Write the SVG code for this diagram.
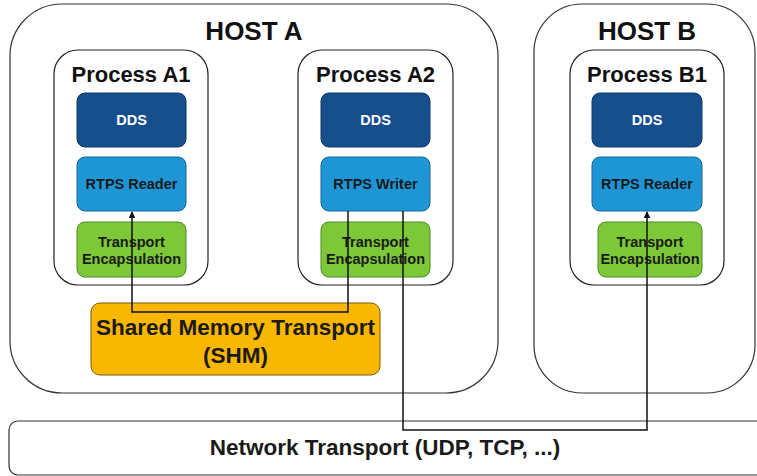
<svg xmlns="http://www.w3.org/2000/svg" width="757" height="476" viewBox="0 0 757 476">
  <defs>
    <style>
      text { font-family: "Liberation Sans", Arial, sans-serif; font-weight: bold; text-anchor: middle; }
      .host { fill: #ffffff; stroke: #333333; stroke-width: 1.2; }
      .proc { fill: #ffffff; stroke: #222222; stroke-width: 1.2; }
      .dds { fill: #174e8c; stroke: #0f3a6b; stroke-width: 1; }
      .rtps { fill: #1e96d6; stroke: #16679a; stroke-width: 1; }
      .enc { fill: #7cc838; stroke: #4f8a1f; stroke-width: 1; }
      .shm { fill: #f9b700; stroke: #7a5a00; stroke-width: 1; }
      .net { fill: #ffffff; stroke: #333333; stroke-width: 1.2; }
      .h1 { font-size: 26px; fill: #111111; }
      .h2 { font-size: 22px; fill: #111111; }
      .small { font-size: 14.5px; fill: #1a1a1a; }
      .white { font-size: 14.5px; fill: #ffffff; }
      .big { font-size: 22.5px; fill: #1a1a1a; }
      .link { fill: none; stroke: #111111; stroke-width: 1.5; }
    </style>
    <marker id="arrow" viewBox="0 0 10 10" refX="9" refY="5" markerWidth="7" markerHeight="7" orient="auto" markerUnits="userSpaceOnUse">
      <path d="M0,0 L10,5 L0,10 Z" fill="#111111"/>
    </marker>
  </defs>

  <!-- Hosts -->
  <g id="host-a">
    <rect class="host" x="10" y="4" width="488" height="389" rx="52" ry="52"/>
    <text class="h1" x="254" y="40">HOST A</text>
  </g>
  <g id="host-b">
    <rect class="host" x="534" y="4" width="221" height="389" rx="48" ry="48"/>
    <text class="h1" x="647" y="40">HOST B</text>
  </g>

  <!-- Network transport -->
  <g id="network">
    <rect class="net" x="9" y="421" width="760" height="54" rx="9" ry="9"/>
    <text class="big" x="385" y="455">Network Transport (UDP, TCP, ...)</text>
  </g>

  <!-- Process A1 -->
  <g id="process-a1">
    <rect class="proc" x="54" y="50" width="154" height="235" rx="24" ry="24"/>
    <text class="h2" x="131" y="82">Process A1</text>
    <rect class="dds" x="77" y="93" width="109" height="54" rx="8" ry="8"/>
    <text class="white" x="131.5" y="125">DDS</text>
    <rect class="rtps" x="77" y="157" width="109" height="54" rx="8" ry="8"/>
    <text class="small" x="131.5" y="189">RTPS Reader</text>
    <rect class="enc" x="77" y="222" width="109" height="55" rx="8" ry="8"/>
    <text class="small" x="131.5" y="247">Transport</text>
    <text class="small" x="131.5" y="264">Encapsulation</text>
  </g>

  <!-- Process A2 -->
  <g id="process-a2">
    <rect class="proc" x="298" y="50" width="155" height="235" rx="24" ry="24"/>
    <text class="h2" x="375.5" y="82">Process A2</text>
    <rect class="dds" x="321" y="93" width="109" height="54" rx="8" ry="8"/>
    <text class="white" x="375.5" y="125">DDS</text>
    <rect class="rtps" x="321" y="157" width="109" height="54" rx="8" ry="8"/>
    <text class="small" x="375.5" y="189">RTPS Writer</text>
    <rect class="enc" x="321" y="222" width="109" height="55" rx="8" ry="8"/>
    <text class="small" x="375.5" y="247">Transport</text>
    <text class="small" x="375.5" y="264">Encapsulation</text>
  </g>

  <!-- Process B1 -->
  <g id="process-b1">
    <rect class="proc" x="570" y="50" width="154" height="235" rx="24" ry="24"/>
    <text class="h2" x="647" y="82">Process B1</text>
    <rect class="dds" x="592" y="93" width="110" height="54" rx="8" ry="8"/>
    <text class="white" x="647" y="125">DDS</text>
    <rect class="rtps" x="592" y="157" width="110" height="54" rx="8" ry="8"/>
    <text class="small" x="647" y="189">RTPS Reader</text>
    <rect class="enc" x="598" y="222" width="104" height="55" rx="8" ry="8"/>
    <text class="small" x="650" y="247">Transport</text>
    <text class="small" x="650" y="264">Encapsulation</text>
  </g>

  <!-- Shared memory transport -->
  <g id="shm">
    <rect class="shm" x="91" y="303" width="289" height="72" rx="9" ry="9"/>
    <text class="big" x="235.5" y="335">Shared Memory Transport</text>
    <text class="big" x="235.5" y="363">(SHM)</text>
  </g>

  <!-- Connectors -->
  <g id="connectors">
    <path class="link" d="M348,211 V312 H132 V212" marker-end="url(#arrow)"/>
    <path class="link" d="M403,211 V430 H647 V212" marker-end="url(#arrow)"/>
  </g>
</svg>
